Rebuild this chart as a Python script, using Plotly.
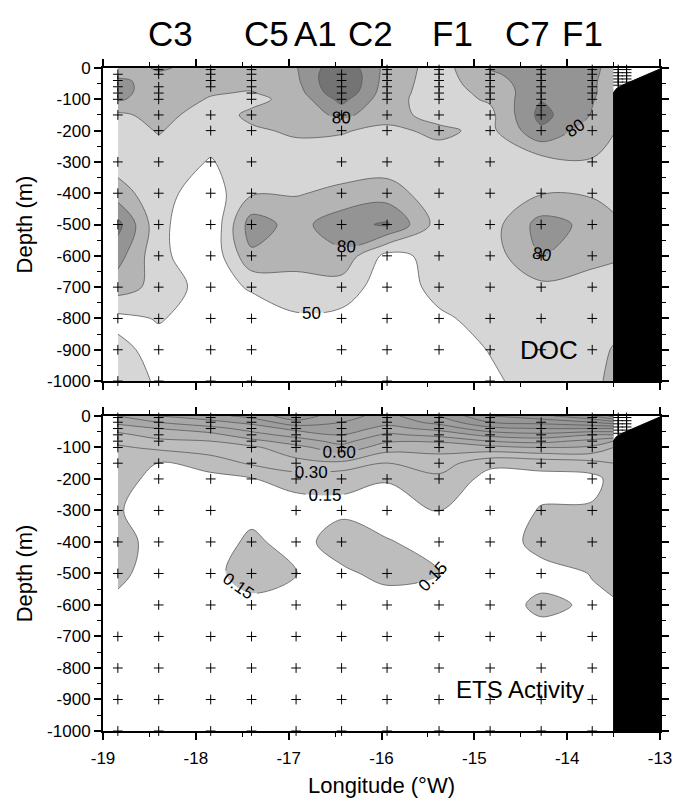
import plotly.graph_objects as go

FONT = "Liberation Sans, Arial, sans-serif"
NARROW = "Liberation Sans Narrow, Liberation Sans, Arial, sans-serif"

# ---------------- data ----------------
LON = [-18.84, -18.40, -17.84, -17.40, -16.92, -16.43, -15.94, -15.38, -14.83, -14.28, -13.73, -13.50]
DEPTH = [0, -20, -40, -60, -80, -100, -150, -200, -300, -400, -500, -600, -700, -800, -900, -1000]

# DOC (rows = DEPTH, cols = LON)
DOC = [
    [72, 82, 74, 78, 79, 108, 75, 58, 81, 86, 84, 74],
    [76, 78, 72, 74, 78, 112, 74, 58, 78, 87, 83, 74],
    [82, 76, 70, 70, 77, 113, 73, 58, 75, 88, 82, 74],
    [84, 74, 68, 67, 75, 112, 72, 58, 72, 89, 82, 73],
    [84, 73, 66, 64, 73, 108, 71, 58, 69, 91, 82, 73],
    [82, 72, 64, 61, 70, 100, 70, 58, 67, 94, 81, 72],
    [62, 70, 58, 68, 70, 84, 70, 60, 61, 100, 79, 70],
    [58, 66, 56, 63, 67, 66, 62, 68, 61, 92, 72, 66],
    [58, 58, 49, 58, 58, 58, 57, 58, 55, 58, 64, 58],
    [72, 55, 42, 63, 64, 68, 72, 56, 56, 64, 63, 60],
    [100, 54, 36, 88, 74, 90, 97, 58, 58, 86, 76, 68],
    [86, 54, 38, 77, 72, 76, 45, 55, 57, 81, 70, 67],
    [72, 60, 42, 52, 58, 58, 42, 54, 56, 61, 58, 58],
    [46, 51, 44, 40, 48, 46, 42, 48, 54, 56, 58, 60],
    [54, 45, 42, 40, 42, 40, 40, 44, 50.5, 56, 60, 66],
    [58, 48, 40, 40, 40, 38, 40, 44, 48, 55, 62, 68],
]

# ETS activity (rows = DEPTH, cols = LON)
ETS = [
    [0.75, 0.90, 1.00, 1.10, 1.30, 1.10, 1.00, 1.20, 1.50, 1.60, 1.80, 2.00],
    [0.65, 0.75, 0.85, 0.95, 1.15, 1.05, 0.95, 1.10, 1.35, 1.40, 1.50, 1.60],
    [0.50, 0.60, 0.70, 0.80, 0.95, 0.98, 0.85, 0.95, 1.15, 1.20, 1.20, 1.20],
    [0.42, 0.50, 0.55, 0.70, 0.80, 0.90, 0.72, 0.80, 0.95, 1.00, 0.90, 0.90],
    [0.33, 0.42, 0.45, 0.55, 0.68, 0.80, 0.62, 0.62, 0.75, 0.80, 0.70, 0.60],
    [0.28, 0.33, 0.38, 0.42, 0.55, 0.70, 0.52, 0.50, 0.55, 0.60, 0.57, 0.45],
    [0.22, 0.145, 0.22, 0.32, 0.40, 0.42, 0.29, 0.38, 0.18, 0.20, 0.25, 0.30],
    [0.20, 0.11, 0.10, 0.14, 0.22, 0.17, 0.16, 0.26, 0.10, 0.10, 0.10, 0.20],
    [0.155, 0.12, 0.08, 0.12, 0.06, 0.13, 0.08, 0.155, 0.06, 0.16, 0.17, 0.20],
    [0.17, 0.13, 0.10, 0.17, 0.11, 0.20, 0.16, 0.10, 0.06, 0.20, 0.22, 0.20],
    [0.17, 0.11, 0.12, 0.20, 0.152, 0.13, 0.18, 0.153, 0.07, 0.10, 0.155, 0.18],
    [0.13, 0.09, 0.10, 0.12, 0.11, 0.10, 0.10, 0.10, 0.08, 0.18, 0.13, 0.14],
    [0.08, 0.07, 0.07, 0.08, 0.08, 0.07, 0.07, 0.07, 0.06, 0.10, 0.08, 0.10],
    [0.06, 0.06, 0.06, 0.06, 0.06, 0.06, 0.06, 0.06, 0.05, 0.06, 0.06, 0.07],
    [0.05, 0.05, 0.05, 0.05, 0.05, 0.05, 0.05, 0.05, 0.05, 0.05, 0.05, 0.06],
    [0.05, 0.05, 0.05, 0.05, 0.05, 0.05, 0.05, 0.05, 0.05, 0.05, 0.05, 0.05],
]

DOC_LEVELS = [50, 65, 80, 95]
DOC_LABELED = [50, 80, 95]
DOC_FILLS = ["#ffffff", "#d6d6d6", "#b4b4b4", "#949494", "#747474"]

ETS_LEVELS = [0.15, 0.30, 0.45, 0.60, 0.75, 0.90, 1.05, 1.20, 1.35, 1.50, 1.65, 1.80, 1.95]
ETS_LABELED = [0.15, 0.30, 0.60]
ETS_FILLS = ["#ffffff", "#bdbdbd", "#bdbdbd", "#b3b3b3", "#a8a8a8", "#a8a8a8", "#9e9e9e",
             "#9e9e9e", "#969696", "#969696", "#969696", "#969696", "#969696", "#969696"]

# sampling stations (crosses)
SAMPLE_LON = [-18.84, -18.40, -17.84, -17.40, -16.92, -16.43, -15.94, -15.38, -14.83, -14.28, -13.73, -13.45, -13.36]
TOP_SAMPLE_DEPTHS = [
    [-20, -40, -60, -80, -100, -150, -300, -400, -500, -700, -800, -900, -1000],
    [-5, -20, -60, -80, -100, -150, -200, -300, -400, -500, -600, -700, -800, -900, -1000],
    [-5, -20, -40, -60, -150, -200, -300, -400, -500, -600, -700, -800, -900, -1000],
    [-5, -20, -40, -60, -80, -100, -150, -200, -300, -400, -500, -600, -700, -800, -900, -1000],
    [],
    [-20, -40, -60, -80, -100, -150, -200, -300, -400, -500, -600, -700, -800, -900, -1000],
    [-5, -20, -40, -60, -80, -100, -150, -200, -300, -400, -500, -600, -700, -800, -900, -1000],
    [-5, -20, -40, -60, -80, -100, -150, -200, -300, -400, -500, -600, -700, -800, -900],
    [-5, -20, -40, -60, -80, -100, -150, -200, -300, -400, -500, -600, -700, -800, -900, -1000],
    [-5, -20, -40, -60, -80, -100, -120, -150, -200, -400, -500, -600, -700, -800, -900],
    [-5, -20, -40, -60, -80, -100, -150, -200, -300, -400, -500, -600, -700, -800, -900],
    [-5, -15, -25, -35, -45, -55],
    [-5, -15, -25, -35, -45],
]
BOT_SAMPLE_DEPTHS = [
    [-5, -20, -40, -60, -80, -100, -150, -300, -400, -500, -700, -800, -900, -1000],
    [-5, -20, -40, -60, -80, -150, -200, -300, -400, -500, -600, -700, -800, -900, -1000],
    [-5, -20, -40, -200, -300, -400, -500, -600, -700, -800, -900, -1000],
    [-5, -20, -40, -60, -80, -100, -150, -200, -400, -500, -600, -700, -800, -900, -1000],
    [-5, -20, -40, -60, -80, -100, -150, -200, -300, -400, -500, -600, -700, -800, -900, -1000],
    [-20, -40, -60, -80, -100, -200, -300, -400, -500, -600, -700, -800, -900, -1000],
    [-5, -20, -40, -60, -80, -100, -200, -300, -500, -600, -700, -800, -900, -1000],
    [-5, -20, -40, -60, -80, -100, -150, -200, -300, -400, -500, -600, -700, -800, -900, -1000],
    [-5, -20, -40, -60, -80, -100, -150, -200, -300, -400, -500, -600, -700, -800, -900, -1000],
    [-20, -40, -60, -80, -100, -150, -300, -400, -500, -600, -700, -800, -900, -1000],
    [-5, -20, -40, -60, -80, -100, -150, -200, -300, -400, -600, -700, -800, -900, -1000],
    [-5, -15, -25, -35, -45, -55],
    [-5, -15, -25, -35, -45],
]

# shelf / bottom topography (black)
BATHY_LON = [-13.50, -13.50, -13.47, -13.40, -13.00, -13.00]
BATHY_DEPTH = [-1000, -78, -66, -54, -3, -1000]

STATIONS = ["C3", "C5", "A1", "C2", "F1", "C7", "F1"]
STATION_LON = [-18.27, -17.24, -16.71, -16.12, -15.23, -14.43, -13.84]

X_TICKS = [-19, -18, -17, -16, -15, -14, -13]
Y_TICKS = [0, -100, -200, -300, -400, -500, -600, -700, -800, -900, -1000]

# ---------------- figure ----------------
fig = go.Figure()


def colorscale(fills):
    n = len(fills) - 1
    return [[i / n, c] for i, c in enumerate(fills)]


def add_panel(z, levels, labeled, fills, fmt, xa, ya):
    step = levels[1] - levels[0]
    fig.add_trace(go.Contour(
        x=LON, y=DEPTH, z=z, autocontour=False,
        contours=dict(start=levels[0], end=levels[-1], size=step,
                      coloring="fill", showlines=False),
        colorscale=colorscale(fills), showscale=False,
        line=dict(width=0, smoothing=1.0), hoverinfo="skip",
        xaxis=xa, yaxis=ya))
    for lv in levels:
        fig.add_trace(go.Contour(
            x=LON, y=DEPTH, z=z, autocontour=False,
            contours=dict(start=lv, end=lv, size=step, coloring="none",
                          showlabels=lv in labeled,
                          labelfont=dict(family=FONT, size=17, color="black"),
                          labelformat=fmt),
            line=dict(color="#5a5a5a", width=0.8, smoothing=1.0),
            showscale=False, hoverinfo="skip", xaxis=xa, yaxis=ya))
    fig.add_trace(go.Scatter(
        x=BATHY_LON, y=BATHY_DEPTH, mode="lines", fill="toself",
        fillcolor="black", line=dict(color="black", width=1),
        hoverinfo="skip", xaxis=xa, yaxis=ya))


def add_samples(depths, xa, ya):
    xs, ys = [], []
    for lon, ds in zip(SAMPLE_LON, depths):
        for d in ds:
            xs.append(lon)
            ys.append(d)
    fig.add_trace(go.Scatter(
        x=xs, y=ys, mode="markers", cliponaxis=False,
        marker=dict(symbol="cross-thin", size=7, line=dict(color="black", width=1)),
        hoverinfo="skip", xaxis=xa, yaxis=ya))


add_panel(DOC, DOC_LEVELS, DOC_LABELED, DOC_FILLS, ".0f", "x", "y")
add_samples(TOP_SAMPLE_DEPTHS, "x", "y")
add_panel(ETS, ETS_LEVELS, ETS_LABELED, ETS_FILLS, ".2f", "x2", "y2")
add_samples(BOT_SAMPLE_DEPTHS, "x2", "y2")

axis_common = dict(showline=True, linewidth=2, linecolor="black", mirror="ticks",
                   ticks="outside", ticklen=7, tickwidth=1.5, tickcolor="black",
                   showgrid=False, zeroline=False,
                   tickfont=dict(family=FONT, size=17, color="black"))

xaxis = dict(axis_common, range=[-19, -13], tickmode="array", tickvals=X_TICKS,
             ticktext=[str(v) for v in X_TICKS], ticklabelstandoff=4,
             minor=dict(tickmode="linear", tick0=-19, dtick=0.5, ticks="outside",
                        ticklen=4, tickwidth=1.2, tickcolor="black"))
yaxis = dict(axis_common, range=[-1000, 0], tickmode="array", tickvals=Y_TICKS,
             ticktext=[str(v) for v in Y_TICKS],
             title=dict(text="Depth (m)", font=dict(family=FONT, size=22), standoff=8),
             minor=dict(tickmode="linear", tick0=0, dtick=50, ticks="outside",
                        ticklen=4, tickwidth=1.2, tickcolor="black"))

fig.update_layout(
    width=679, height=801,
    margin=dict(l=103, r=7, t=68, b=68),
    paper_bgcolor="white", plot_bgcolor="white", showlegend=False,
    font=dict(family=FONT, size=17, color="black"),
    xaxis=dict(xaxis, domain=[0, 1], anchor="y", showticklabels=False),
    yaxis=dict(yaxis, domain=[0.5278, 1], anchor="x"),
    xaxis2=dict(xaxis, domain=[0, 1], anchor="y2",
                title=dict(text="Longitude (°W)", font=dict(family=FONT, size=22), standoff=10)),
    yaxis2=dict(yaxis, domain=[0, 0.4752], anchor="x2"),
)

for name, lon in zip(STATIONS, STATION_LON):
    fig.add_annotation(x=lon, xref="x", y=1.052, yref="paper", text=name,
                       showarrow=False, xanchor="center", yanchor="middle",
                       font=dict(family=NARROW, size=35, color="black"))

fig.add_annotation(x=-14.20, y=-901, xref="x", yref="y", text="DOC", showarrow=False,
                   font=dict(family=NARROW, size=26, color="black"))
fig.add_annotation(x=-14.51, y=-867, xref="x2", yref="y2", text="ETS Activity", showarrow=False,
                   font=dict(family=FONT, size=24, color="black"))

fig.write_html("out.html")
